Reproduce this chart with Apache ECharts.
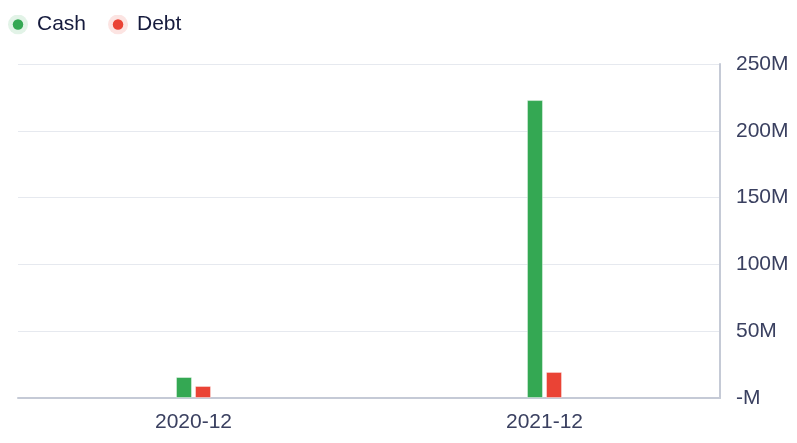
<!DOCTYPE html>
<html><head><meta charset="utf-8">
<script src="https://cdn.jsdelivr.net/npm/echarts@6/dist/echarts.min.js"></script>
<style>html,body{margin:0;padding:0;background:#fff}#c{width:797px;height:443px}</style>
</head><body><div id="c"></div>
<script>
const categories = ['2020-12', '2021-12'];
const cashValues = [15.7e6, 223e6];
const debtValues = [9e6, 19.5e6];
const yTicks = { min: 0, max: 250e6, interval: 50e6 };

function haloIcon(color) {
  const svg = '<svg xmlns="http://www.w3.org/2000/svg" width="40" height="40" viewBox="0 0 40 40">' +
    '<circle cx="20" cy="20" r="20" fill="' + color + '" fill-opacity="0.14"/>' +
    '<circle cx="20" cy="20" r="10.5" fill="' + color + '"/></svg>';
  return 'image://data:image/svg+xml;charset=utf-8,' + encodeURIComponent(svg);
}

const chart = echarts.init(document.getElementById('c'), null, { renderer: 'canvas' });
chart.setOption({
  animation: false,
  textStyle: { fontFamily: '"Liberation Sans", Arial, sans-serif' },
  legend: {
    left: 8, top: 14, padding: 0,
    itemWidth: 20, itemHeight: 20, itemGap: 22,
    textStyle: { fontSize: 21, lineHeight: 20, color: '#161b3d', padding: [0, 0, 0, 4] },
    data: [
      { name: 'Cash', icon: haloIcon('#34a853') },
      { name: 'Debt', icon: haloIcon('#ea4335') }
    ]
  },
  grid: { left: 18, right: 77, top: 64, bottom: 45, containLabel: false },
  xAxis: {
    type: 'category', data: categories,
    axisLine: { lineStyle: { color: '#c5cad6', width: 2 } },
    axisTick: { alignWithLabel: true, length: 8, lineStyle: { color: '#c5cad6', width: 2 } },
    axisLabel: { fontSize: 21, color: '#3a4060', margin: 14 }
  },
  yAxis: {
    type: 'value', position: 'right',
    min: yTicks.min, max: yTicks.max, interval: yTicks.interval,
    axisLine: { show: true, lineStyle: { color: '#c5cad6', width: 2 } },
    axisTick: { show: false },
    splitLine: { lineStyle: { color: '#e6e9ef', width: 1 } },
    axisLabel: {
      fontSize: 21, color: '#3a4060', margin: 16, verticalAlign: 'middle',
      formatter: v => (v === 0 ? '-' : (v / 1e6)) + 'M'
    }
  },
  series: [
    { name: 'Cash', type: 'bar', data: cashValues, barWidth: 16, barGap: '19%',
      itemStyle: { color: '#34a853', borderColor: 'rgba(255,255,255,0.4)', borderWidth: 1 } },
    { name: 'Debt', type: 'bar', data: debtValues, barWidth: 16,
      itemStyle: { color: '#ea4335', borderColor: 'rgba(255,255,255,0.4)', borderWidth: 1 } }
  ]
});
</script></body></html>
